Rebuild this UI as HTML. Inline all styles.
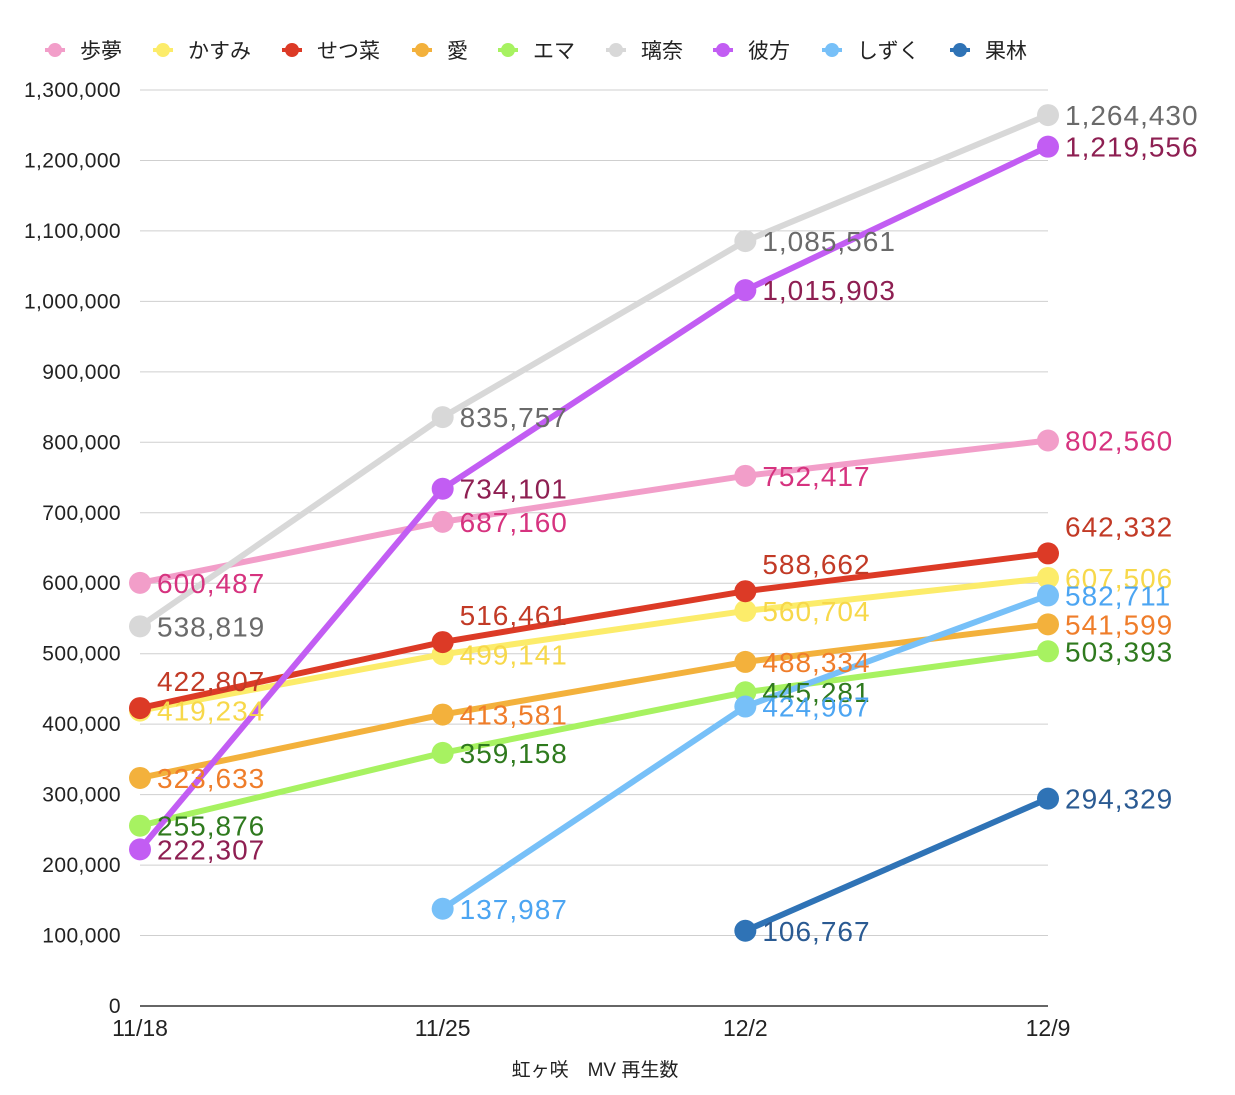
<!DOCTYPE html>
<html><head><meta charset="utf-8"><style>
body{margin:0;background:#fff;}
svg{display:block;font-family:"Liberation Sans","Noto Sans CJK JP",sans-serif;}
</style></head><body>
<svg id="chart" width="1235" height="1095" viewBox="0 0 1235 1095" xmlns="http://www.w3.org/2000/svg"></svg>
<script>
const categories=["11/18","11/25","12/2","12/9"];
const seriesNames=["歩夢","かすみ","せつ菜","愛","エマ","璃奈","彼方","しずく","果林"];
const ayumu=[600487,687160,752417,802560];
const kasumi=[419234,499141,560704,607506];
const setsuna=[422807,516461,588662,642332];
const ai=[323633,413581,488334,541599];
const emma=[255876,359158,445281,503393];
const rina=[538819,835757,1085561,1264430];
const kanata=[222307,734101,1015903,1219556];
const shizuku=[null,137987,424967,582711];
const karin=[null,null,106767,294329];
const yTicks=[0,100000,200000,300000,400000,500000,600000,700000,800000,900000,1000000,1100000,1200000,1300000];
const seriesData=[ayumu,kasumi,setsuna,ai,emma,rina,kanata,shizuku,karin];
const lineColors=["#f29ec9","#fcec6a","#dc3a26","#f3b13c","#a7f261","#d8d8d8","#c25df3","#77c0f8","#2f73b6"];
const labelColors=["#d6337f","#f7d84a","#c23a26","#ef7d2a","#2f7a1e","#6a6a6a","#8e1f52","#4ca5f2","#2a5a92"];
const slugs=["ayumu","kasumi","setsuna","ai","emma","rina","kanata","shizuku","karin"];
const aboveLabels={"2-0":1,"2-1":1,"2-2":1,"2-3":1};
const legendX=[55,163,292,422,508,616,723,832,960];

const svg=document.getElementById('chart');
const NS="http://www.w3.org/2000/svg";
const x0=140,x1=1048,yBase=1006,yTop=90,yMax=1300000;
const xs=i=>x0+(x1-x0)*i/(categories.length-1);
const ys=v=>yBase-(yBase-yTop)*v/yMax;
function mk(tag,attrs,parent){const e=document.createElementNS(NS,tag);for(const k in attrs)e.setAttribute(k,attrs[k]);(parent||svg).appendChild(e);return e;}
const fmt=v=>v.toLocaleString('en-US');

yTicks.forEach(t=>{
  const g=mk('line',{x1:x0,x2:x1,y1:ys(t),y2:ys(t),stroke:t===0?'#333':'#cfcfcf','stroke-width':t===0?1.5:1});
  
  
  const tx=mk('text',{x:121,y:ys(t)+7,'text-anchor':'end','font-size':21,'letter-spacing':0.4,fill:'#222'});
  tx.textContent=fmt(t);
  
  
});
categories.forEach((c,i)=>{
  const tx=mk('text',{x:xs(i),y:1036,'text-anchor':'middle','font-size':23,fill:'#222'});
  tx.textContent=c;
  
  
});
const title=mk('text',{x:595,y:1076,'text-anchor':'middle','font-size':19,fill:'#222'});
title.textContent="虹ヶ咲　MV 再生数";



seriesNames.forEach((n,s)=>{
  const g=mk('g',{});
  
  
  mk('line',{x1:legendX[s]-10,x2:legendX[s]+10,y1:50,y2:50,stroke:lineColors[s],'stroke-width':4},g);
  mk('circle',{cx:legendX[s],cy:50,r:7,fill:lineColors[s]},g);
  const t=mk('text',{x:legendX[s]+25,y:58,'font-size':21,fill:'#222'},g);
  t.textContent=n;
});

seriesData.forEach((d,s)=>{
  const g=mk('g',{});
  
  
  let pts=[];
  d.forEach((v,i)=>{if(v!==null)pts.push(xs(i)+','+ys(v));});
  const pl=mk('polyline',{points:pts.join(' '),fill:'none',stroke:lineColors[s],'stroke-width':6,'stroke-linejoin':'round'},g);
  
  
});
seriesData.forEach((d,s)=>{
  d.forEach((v,i)=>{
    if(v===null)return;
    const c=mk('circle',{cx:xs(i),cy:ys(v),r:11,fill:lineColors[s]});
    
    
  });
});
seriesData.forEach((d,s)=>{
  d.forEach((v,i)=>{
    if(v===null)return;
    const above=aboveLabels[s+'-'+i];
    const t=mk('text',{x:xs(i)+17,y:ys(v)+(above?-17:10),'font-size':28,'letter-spacing':1,fill:labelColors[s]});
    t.textContent=fmt(v);
    
    
  });
});
</script>
</body></html>
